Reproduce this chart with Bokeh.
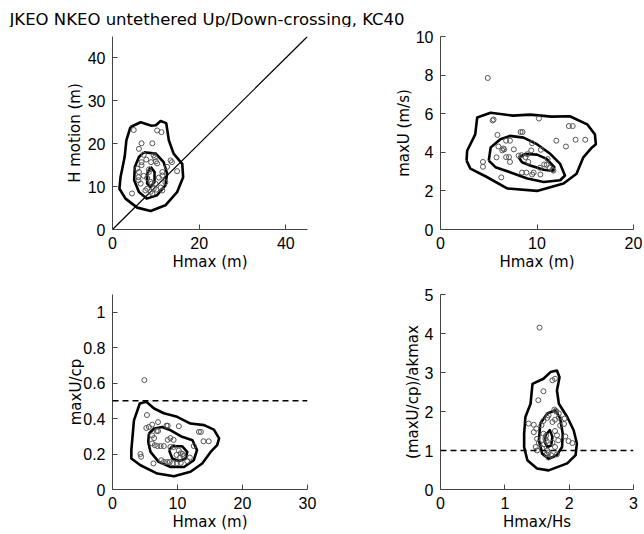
from bokeh.plotting import figure
from bokeh.layouts import column, row
from bokeh.models import FixedTicker, Span, CustomJSTickFormatter, Range1d, Label
from bokeh.embed import file_html
from bokeh.resources import INLINE

FONT = "Liberation Sans"
LFONT = "DejaVu Sans"
TITLE = "JKEO NKEO untethered Up/Down-crossing, KC40"

# ---------------- Panel 1: Hmax vs H motion ----------------
p1_hmax = [4.9, 10.3, 11.3, 6.7, 9.2, 6.1, 7.2, 9.5, 9.8, 10.3, 10.0, 8.9, 7.8, 6.7, 6.7,
           13.4, 13.7, 14.9, 12.6, 11.5, 5.7, 6.1, 8.4, 8.4, 6.0, 6.0, 8.0, 10.7, 11.5,
           8.8, 9.0, 9.9, 12.2, 8.0, 7.6, 9.5, 10.1, 11.1, 11.5, 4.5, 8.8, 9.2, 6.5, 7.2]
p1_hmotion = [23.2, 23.1, 22.7, 20.1, 20.1, 18.8, 17.4, 17.3, 16.8, 15.4, 15.9, 15.7, 16.3, 15.7, 15.0,
              16.1, 15.7, 13.6, 14.6, 13.4, 14.2, 13.4, 14.0, 13.4, 12.2, 11.5, 12.0, 12.1, 12.6,
              11.1, 10.7, 10.7, 11.0, 9.5, 9.1, 9.5, 9.3, 9.8, 9.1, 8.4, 8.8, 8.4, 10.7, 12.5]
p1_diag_x = [0, 45]
p1_diag_y = [0, 45]
p1_c1_x = [4.15, 6.5, 9.0, 10.0, 11.1, 12.4, 13.0, 14.1, 16.1, 16.3, 14.9, 12.2, 8.8, 5.7, 3.0, 1.6, 1.85, 2.8, 3.2]
p1_c1_y = [23.9, 25.0, 24.2, 24.3, 25.3, 24.8, 20.8, 17.7, 15.3, 12.2, 8.7, 5.65, 4.3, 5.1, 7.2, 9.5, 12.2, 16.9, 20.8]
p1_c2_x = [7.2, 10.0, 11.8, 12.6, 12.2, 10.3, 7.9, 6.1, 5.0, 5.15, 6.1]
p1_c2_y = [18.0, 17.7, 15.7, 13.0, 10.3, 8.0, 7.2, 8.75, 11.5, 14.6, 16.9]
p1_c3_x = [8.8, 9.7, 9.7, 8.8, 8.0, 8.0]
p1_c3_y = [14.6, 13.4, 11.1, 9.9, 10.7, 13.0]

# ---------------- Panel 2: Hmax vs maxU ----------------
p2_hmax = [4.9, 5.4, 5.5, 10.2, 13.3, 13.7, 8.3, 8.5, 5.9, 6.8, 7.2, 9.5, 12.0, 14.0, 15.0,
           13.0, 6.5, 6.4, 6.6, 7.6, 10.4, 9.4, 5.8, 6.8, 7.1, 7.2, 8.1, 8.4, 8.8, 9.1, 11.1,
           10.75, 11.3, 11.6, 11.7, 4.4, 4.4, 10.3, 8.45, 8.9, 9.65, 10.35, 6.3, 9.5, 6.0, 9.0, 11.0]
p2_maxu = [7.85, 5.65, 5.7, 5.75, 5.36, 5.36, 5.05, 5.05, 4.9, 4.6, 4.6, 4.47, 4.6, 4.65, 4.65,
           4.3, 4.2, 4.1, 4.15, 4.15, 4.13, 4.1, 3.74, 3.75, 3.75, 3.5, 3.83, 3.85, 3.75, 3.5, 3.65,
           3.37, 3.2, 3.1, 3.05, 3.5, 3.25, 3.2, 2.95, 2.95, 2.95, 2.85, 2.7, 2.85, 4.3, 3.9, 3.35]
p2_c1_x = [2.7, 2.76, 3.6, 3.8, 5.2, 7.5, 9.3, 11.5, 13.4, 15.2, 16.0, 16.1, 15.7, 14.8, 14.1, 12.75, 10.0, 6.9, 4.8, 3.1]
p2_c1_y = [3.57, 4.08, 4.93, 5.8, 6.05, 5.9, 5.95, 5.85, 5.87, 5.45, 4.93, 4.42, 4.25, 3.74, 2.89, 2.38, 2.0, 2.13, 2.72, 3.15]
p2_c2_x = [5.0, 5.2, 6.2, 7.2, 8.6, 10.0, 11.4, 12.4, 12.9, 12.4, 10.7, 9.0, 7.2, 5.7]
p2_c2_y = [3.57, 4.25, 4.68, 4.85, 4.76, 4.42, 3.91, 3.4, 2.8, 2.55, 2.46, 2.64, 2.97, 3.23]
p2_c3_x = [8.1, 8.8, 10.0, 11.0, 11.8, 11.65, 10.7, 9.3, 8.45]
p2_c3_y = [3.74, 3.91, 3.88, 3.66, 3.23, 3.03, 3.1, 3.32, 3.48]

# ---------------- Panel 3: Hmax vs maxU/cp ----------------
p3_hmax = [4.9, 5.3, 5.2, 5.6, 6.1, 7.0, 8.3, 8.5, 10.2, 6.8, 7.0, 13.3, 13.6, 14.0, 14.8,
           6.1, 6.4, 6.1, 6.5, 6.9, 7.4, 7.9, 8.5, 8.9, 9.4, 8.9, 9.4, 12.5, 4.3, 4.4,
           10.2, 10.5, 10.9, 10.4, 10.8, 9.85, 6.3, 7.9, 8.4, 8.8, 9.3, 9.9, 10.5, 11.5, 11.9, 7.5]
p3_ratio = [0.617, 0.42, 0.347, 0.353, 0.366, 0.38, 0.36, 0.36, 0.357, 0.33, 0.33, 0.325, 0.325, 0.272, 0.272,
            0.305, 0.29, 0.26, 0.25, 0.245, 0.245, 0.245, 0.28, 0.29, 0.28, 0.24, 0.24, 0.245, 0.2, 0.185,
            0.22, 0.205, 0.19, 0.18, 0.2, 0.195, 0.147, 0.155, 0.155, 0.155, 0.148, 0.148, 0.15, 0.16, 0.18, 0.165]
p3_ref = 0.5
p3_c1_x = [3.3, 4.2, 5.2, 6.4, 7.9, 9.95, 12.0, 14.1, 15.6, 16.4, 16.1, 15.1, 13.8, 12.0, 9.45, 6.9, 4.3, 2.9, 2.9]
p3_c1_y = [0.39, 0.485, 0.495, 0.457, 0.43, 0.41, 0.372, 0.363, 0.338, 0.288, 0.25, 0.212, 0.147, 0.1, 0.075, 0.09, 0.137, 0.175, 0.222]
p3_c2_x = [5.6, 6.4, 7.65, 8.95, 10.7, 12.3, 13.0, 12.5, 11.0, 8.95, 7.1, 5.85, 5.5]
p3_c2_y = [0.316, 0.344, 0.353, 0.334, 0.297, 0.278, 0.222, 0.165, 0.127, 0.127, 0.156, 0.212, 0.268]
p3_c3_x = [8.7, 9.2, 10.7, 11.5, 11.25, 10.2, 9.2]
p3_c3_y = [0.222, 0.244, 0.244, 0.212, 0.175, 0.161, 0.175]

# ---------------- Panel 4: Hmax/Hs vs (maxU/cp)/akmax ----------------
p4_hmax_hs = [1.54, 1.74, 1.78, 1.6, 1.52, 1.77, 1.79, 1.8, 1.68, 1.66, 1.84, 1.84, 1.93, 1.37, 1.45,
              1.6, 1.57, 1.74, 1.78, 1.86, 1.92, 1.49, 1.45, 1.78, 1.6, 1.64, 1.63, 1.65, 1.61,
              1.5, 1.53, 1.81, 1.94, 1.99, 2.05, 1.74, 1.83, 1.48, 1.5, 1.66, 1.68, 1.65, 1.78,
              1.81, 1.72, 1.68, 1.58]
p4_norm = [4.15, 2.8, 2.84, 2.52, 2.29, 2.05, 2.02, 2.0, 1.9, 1.84, 1.95, 1.84, 1.82, 1.69, 1.66,
           1.76, 1.65, 1.73, 1.79, 1.64, 1.68, 1.56, 1.47, 1.5, 1.43, 1.38, 1.3, 1.24, 1.16,
           1.3, 1.19, 1.39, 1.36, 1.24, 1.19, 1.2, 1.26, 1.09, 1.0, 1.0, 0.95, 0.9, 1.09,
           0.9, 0.88, 0.82, 1.05]
p4_ref = 1.0
p4_c1_x = [1.3, 1.32, 1.4, 1.43, 1.6, 1.71, 1.81, 1.85, 1.81, 1.84, 1.97, 2.07, 2.12, 2.1, 1.97, 1.68, 1.5, 1.35, 1.3]
p4_c1_y = [1.43, 1.86, 2.2, 2.71, 2.84, 3.01, 3.05, 2.88, 2.54, 2.2, 1.86, 1.52, 1.18, 0.88, 0.67, 0.49, 0.54, 0.75, 1.09]
p4_c2_x = [1.55, 1.66, 1.79, 1.86, 1.9, 1.89, 1.81, 1.68, 1.58, 1.53]
p4_c2_y = [1.69, 1.95, 2.03, 1.82, 1.43, 1.09, 0.88, 0.79, 0.92, 1.26]
p4_c3_x = [1.63, 1.7, 1.74, 1.72, 1.66, 1.62]
p4_c3_y = [1.39, 1.52, 1.35, 1.13, 1.09, 1.22]

# tick values
p1_xticks = [0, 20, 40]
p1_yticks = [0, 10, 20, 30, 40]
p2_xticks = [0, 10, 20]
p2_yticks = [0, 2, 4, 6, 8, 10]
p3_xticks = [0, 10, 20, 30]
p3_yticks = [0, 0.2, 0.4, 0.6, 0.8, 1.0]
p4_xticks = [0, 1, 2, 3]
p4_yticks = [0, 1, 2, 3, 4, 5]

FMT = CustomJSTickFormatter(code="return String(Math.round(tick*10)/10);")


def closed(a):
    return list(a) + [a[0]]


def make_panel(w, h, bl, br, bt, bb, xr, yr, xticks, yticks, xlabel, ylabel, ylab_standoff):
    p = figure(width=w, height=h, output_backend="svg", toolbar_location=None, title=None,
               x_range=Range1d(*xr), y_range=Range1d(*yr),
               min_border_left=bl, min_border_right=br, min_border_top=bt, min_border_bottom=bb)
    p.outline_line_color = None
    p.grid.visible = False
    p.background_fill_color = "white"
    p.border_fill_color = "white"
    for ax, ticks, lab in ((p.xaxis[0], xticks, xlabel), (p.yaxis[0], yticks, ylabel)):
        ax.ticker = FixedTicker(ticks=ticks)
        ax.formatter = FMT
        ax.major_tick_in = 5
        ax.major_tick_out = 0
        ax.minor_tick_line_color = None
        ax.axis_line_color = "#444444"
        ax.major_tick_line_color = "#444444"
        ax.major_label_text_font = FONT
        ax.major_label_text_font_size = "16px"
        ax.major_label_text_color = "black"
        ax.axis_label = lab
        ax.axis_label_text_font = LFONT
        ax.axis_label_text_font_size = "15px"
        ax.axis_label_text_font_style = "normal"
        ax.axis_label_text_color = "black"
    p.xaxis[0].major_label_standoff = 7
    p.xaxis[0].axis_label_standoff = 1
    p.yaxis[0].major_label_standoff = 7
    p.yaxis[0].axis_label_standoff = ylab_standoff
    return p


def draw(p, xs, ys, contours):
    for cx, cy in contours:
        p.line(closed(cx), closed(cy), line_color="black", line_width=2.6, line_join="round")
    p.scatter(xs, ys, marker="circle", size=5, fill_color=None, line_color="#555555", line_width=1)


# title strip
tfig = figure(width=644, height=27, output_backend="svg", toolbar_location=None, title=None,
              x_axis_location=None, y_axis_location=None,
              x_range=Range1d(0, 644), y_range=Range1d(0, 27),
              min_border=0, min_border_left=0, min_border_right=0, min_border_top=0, min_border_bottom=0)
tfig.grid.visible = False
tfig.outline_line_color = None
tfig.add_layout(Label(x=9, y=8.5, x_units="screen", y_units="screen", text=TITLE,
                      text_font=LFONT, text_font_size="16.5px", text_baseline="alphabetic",
                      text_align="left", text_color="black"))

f1 = make_panel(330, 246, 112, 23, 9, 44, (0, 45), (0, 45), p1_xticks, p1_yticks, "Hmax (m)", "H motion (m)", 1)
f1.line(p1_diag_x, p1_diag_y, line_color="black", line_width=1.2)
draw(f1, p1_hmax, p1_hmotion, [(p1_c1_x, p1_c1_y), (p1_c2_x, p1_c2_y), (p1_c3_x, p1_c3_y)])

f2 = make_panel(314, 246, 110, 11, 7, 43, (0, 20), (0, 10), p2_xticks, p2_yticks, "Hmax (m)", "maxU (m/s)", 0)
draw(f2, p2_hmax, p2_maxu, [(p2_c1_x, p2_c1_y), (p2_c2_x, p2_c2_y), (p2_c3_x, p2_c3_y)])

f3 = make_panel(330, 261, 112, 23, 21, 45, (0, 30), (0, 1.1), p3_xticks, p3_yticks, "Hmax (m)", "maxU/cp", -5)
f3.add_layout(Span(location=p3_ref, dimension="width", line_color="black", line_width=1.5, line_dash="6 4"))
draw(f3, p3_hmax, p3_ratio, [(p3_c1_x, p3_c1_y), (p3_c2_x, p3_c2_y), (p3_c3_x, p3_c3_y)])

f4 = make_panel(314, 261, 110, 11, 21, 45, (0, 3), (0, 5), p4_xticks, p4_yticks, "Hmax/Hs", "(maxU/cp)/akmax", 0)
f4.add_layout(Span(location=p4_ref, dimension="width", line_color="black", line_width=1.5, line_dash="6 4"))
draw(f4, p4_hmax_hs, p4_norm, [(p4_c1_x, p4_c1_y), (p4_c2_x, p4_c2_y), (p4_c3_x, p4_c3_y)])

layout = column(tfig, row(f1, f2), row(f3, f4))
open("out.html", "w").write(file_html(layout, INLINE))
